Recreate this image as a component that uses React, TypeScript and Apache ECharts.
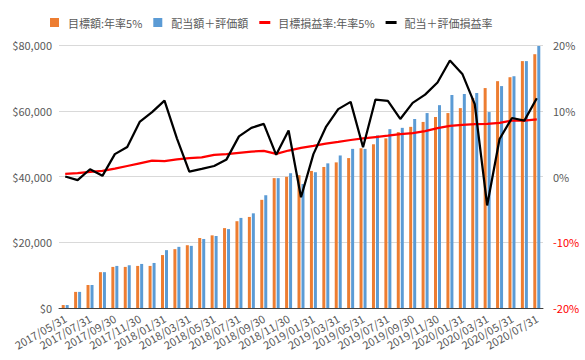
import React, { useEffect, useRef } from "react";
import * as echarts from "echarts";

const categories = [
  "2017/05/31", "2017/06/30", "2017/07/31", "2017/08/31", "2017/09/30", "2017/10/31", "2017/11/30", "2017/12/31",
  "2018/01/31", "2018/02/28", "2018/03/31", "2018/04/30", "2018/05/31", "2018/06/30", "2018/07/31", "2018/08/31",
  "2018/09/30", "2018/10/31", "2018/11/30", "2018/12/31",
  "2019/01/31", "2019/02/28", "2019/03/31", "2019/04/30", "2019/05/31", "2019/06/30", "2019/07/31", "2019/08/31",
  "2019/09/30", "2019/10/31", "2019/11/30", "2019/12/31",
  "2020/01/31", "2020/02/29", "2020/03/31", "2020/04/30", "2020/05/31", "2020/06/30", "2020/07/31",
];

const targetAmount = [
  900, 4900, 7000, 10900, 12500, 12500, 12800, 12800, 16100, 17900, 19100, 21300, 22100, 24300, 26400, 27700,
  32900, 39500, 39900, 40400, 41700, 42900, 44300, 45600, 48600, 49800, 51600, 53500, 55100, 56600, 58100,
  59300, 60800, 63900, 66900, 69000, 70200, 75100, 77200,
];

const actualAmount = [
  900, 4900, 7000, 10900, 12800, 13000, 13400, 13700, 17600, 18600, 18900, 21000, 21900, 24000, 27400, 28800,
  34300, 39500, 41000, 37700, 41300, 44000, 46400, 48400, 48400, 52500, 54400, 54800, 57500, 59300, 61700,
  64800, 65100, 65400, 59600, 67500, 70500, 75100, 79700,
];

const targetRate = [
  0.4, 0.5, 0.7, 0.85, 1.2, 1.6, 2.0, 2.4, 2.35, 2.6, 2.8, 2.9, 3.3, 3.4, 3.6, 3.8, 3.9, 3.45, 3.95, 4.35,
  4.65, 5.0, 5.25, 5.55, 5.8, 6.0, 6.2, 6.45, 6.6, 6.9, 7.35, 7.7, 7.85, 7.95, 8.0, 8.15, 8.5, 8.5, 8.7,
];

const actualRate = [
  0, -0.55, 1.1, 0.1, 3.4, 4.5, 8.3, 9.8, 11.55, 5.8, 0.75, 1.15, 1.6, 2.6, 6.1, 7.4, 8.0, 3.3, 7.0, -3.15,
  3.4, 7.5, 10.25, 11.35, 4.45, 11.7, 11.5, 8.75, 11.2, 12.45, 14.3, 17.65, 15.6, 11.0, -4.4, 5.7, 8.9, 8.5, 11.9,
];

const seriesNames = ["目標額:年率5%", "配当額＋評価額", "目標損益率:年率5%", "配当＋評価損益率"];

const FONT = "'Noto Sans CJK JP', 'Noto Sans', sans-serif";
const TEXT = "#595959";

export default function App() {
  const ref = useRef<HTMLDivElement>(null);

  useEffect(() => {
    document.body.style.margin = "0";
    if (!ref.current) return;
    const chart = echarts.init(ref.current, undefined, { renderer: "svg" });
    const squareIcon = "path://M0,0h9v9h-9z";
    const lineIcon = "path://M0,0h11v3h-11z";
    chart.setOption({
      animation: false,
      textStyle: { fontFamily: FONT },
      legend: {
        top: 12,
        left: 45,
        itemWidth: 11,
        itemHeight: 9,
        itemGap: 11,
        textStyle: { color: TEXT, fontSize: 11, fontFamily: FONT, padding: [0, 0, 0, 3] },
        data: [
          { name: seriesNames[0], icon: squareIcon },
          { name: seriesNames[1], icon: squareIcon },
          { name: seriesNames[2], icon: lineIcon },
          { name: seriesNames[3], icon: lineIcon },
        ],
      },
      grid: { left: 59, right: 42, top: 45, bottom: 52 },
      xAxis: {
        type: "category",
        data: categories,
        axisLine: { lineStyle: { color: "#404040", width: 1 } },
        axisTick: { show: false },
        axisLabel: {
          interval: 1,
          rotate: 30,
          margin: 9,
          color: TEXT,
          fontSize: 11,
          fontFamily: FONT,
        },
      },
      yAxis: [
        {
          type: "value",
          min: 0,
          max: 80000,
          interval: 20000,
          axisLine: { show: false },
          axisTick: { show: false },
          splitLine: { lineStyle: { color: "#D9D9D9", width: 1 } },
          axisLabel: {
            margin: 7,
            color: TEXT,
            fontSize: 11,
            fontFamily: FONT,
            formatter: (v: number) => "$" + v.toLocaleString("en-US"),
          },
        },
        {
          type: "value",
          min: -20,
          max: 20,
          interval: 10,
          axisLine: { show: false },
          axisTick: { show: false },
          splitLine: { show: false },
          axisLabel: {
            margin: 10,
            fontSize: 11,
            fontFamily: FONT,
            color: (v: any) => (Number(v) < 0 ? "#FF0000" : TEXT),
            formatter: (v: number) => v + "%",
          },
        },
      ],
      series: [
        {
          name: seriesNames[0],
          type: "bar",
          data: targetAmount,
          barWidth: 3,
          barGap: "33%",
          itemStyle: { color: "#ED7D31" },
        },
        {
          name: seriesNames[1],
          type: "bar",
          data: actualAmount,
          barWidth: 3,
          barGap: "33%",
          itemStyle: { color: "#5B9BD5" },
        },
        {
          name: seriesNames[2],
          type: "line",
          yAxisIndex: 1,
          data: targetRate,
          symbol: "none",
          lineStyle: { color: "#FF0000", width: 2.25 },
          itemStyle: { color: "#FF0000" },
          z: 3,
        },
        {
          name: seriesNames[3],
          type: "line",
          yAxisIndex: 1,
          data: actualRate,
          symbol: "none",
          lineStyle: { color: "#000000", width: 2.25 },
          itemStyle: { color: "#000000" },
          z: 4,
        },
      ],
    });
    return () => chart.dispose();
  }, []);

  return <div ref={ref} style={{ width: 585, height: 360 }} />;
}
